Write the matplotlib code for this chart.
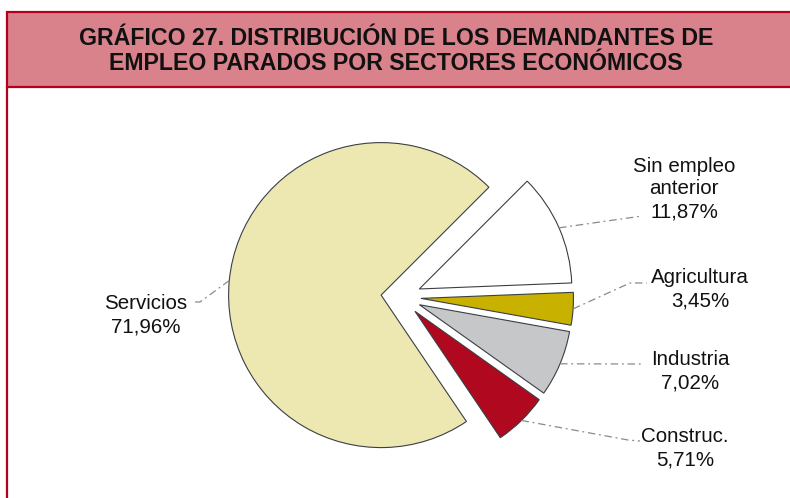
import matplotlib.pyplot as plt
import matplotlib.patches as mpatches
import numpy as np

# datos
sectores = ["Sin empleo\nanterior", "Agricultura", "Industria", "Construc.", "Servicios"]
porcentajes = [11.87, 3.45, 7.02, 5.71, 71.96]
colores = ["#ffffff", "#c9b100", "#c6c7c9", "#b0081e", "#ede8b2"]
titulo = ["GRÁFICO 27. DISTRIBUCIÓN DE LOS DEMANDANTES DE",
          "EMPLEO PARADOS POR SECTORES ECONÓMICOS"]

W, H = 790, 498
# posiciones de las etiquetas (pixeles, y hacia arriba; base de la ultima linea)
pos_etiquetas = [(684, H - 217), (700, H - 306), (690, H - 388),
                 (685, H - 465), (146, H - 332)]
# recorrido del conector: codo y final
codos = [(642, H - 216), (630, H - 283), (643, H - 364),
         (628, H - 440), (200, H - 302)]
finales = [(642, H - 216), (647, H - 283), (643, H - 364),
           (640, H - 441), (192, H - 302)]

fig = plt.figure(figsize=(W / 100, H / 100), dpi=100)
ax = fig.add_axes([0, 0, 1, 1])

radio = 152.5
centro = (401, 201)
wedges, _ = ax.pie(porcentajes, colors=colores, startangle=45, counterclock=False,
                   explode=[20] * 5, radius=radio, center=centro,
                   wedgeprops=dict(edgecolor="#3a3f44", linewidth=0.8))

ax.set_xlim(0, W)
ax.set_ylim(0, H)
ax.set_aspect("equal")
ax.axis("off")

# caja del titulo
rojo = "#b3001b"
ax.add_patch(mpatches.Rectangle((6.5, 411), 800, 75, facecolor="#d9828b",
                                edgecolor=rojo, linewidth=1.6, clip_on=False))
ax.plot([6.5, 6.5], [0, 411], color=rojo, linewidth=1.6, solid_capstyle="butt")

fuente_tit = ["Liberation Sans", "DejaVu Sans"]
ax.text(396, H - 45, titulo[0], ha="center", va="baseline", fontsize=16.7,
        fontweight="bold", family=fuente_tit, color="#111111")
ax.text(396, H - 70, titulo[1], ha="center", va="baseline", fontsize=16.7,
        fontweight="bold", family=fuente_tit, color="#111111")

# etiquetas y conectores
for w, nombre, pct, (tx, ty), (cx, cy), (fx, fy) in zip(
        wedges, sectores, porcentajes, pos_etiquetas, codos, finales):
    ang = np.deg2rad((w.theta1 + w.theta2) / 2)
    px = w.center[0] + w.r * np.cos(ang)
    py = w.center[1] + w.r * np.sin(ang)
    ax.plot([px, cx, fx], [py, cy, fy], color="#8a8a8a", lw=0.9,
            ls=(0, (6, 3, 1.5, 3)))
    txt = nombre + "\n" + f"{pct:.2f}%".replace(".", ",")
    ax.text(tx, ty, txt, ha="center", va="baseline", fontsize=14.8,
            family=["Liberation Sans", "DejaVu Sans"], linespacing=1.25,
            color="#111111")

fig.savefig("out.png", dpi=100, facecolor="white")
